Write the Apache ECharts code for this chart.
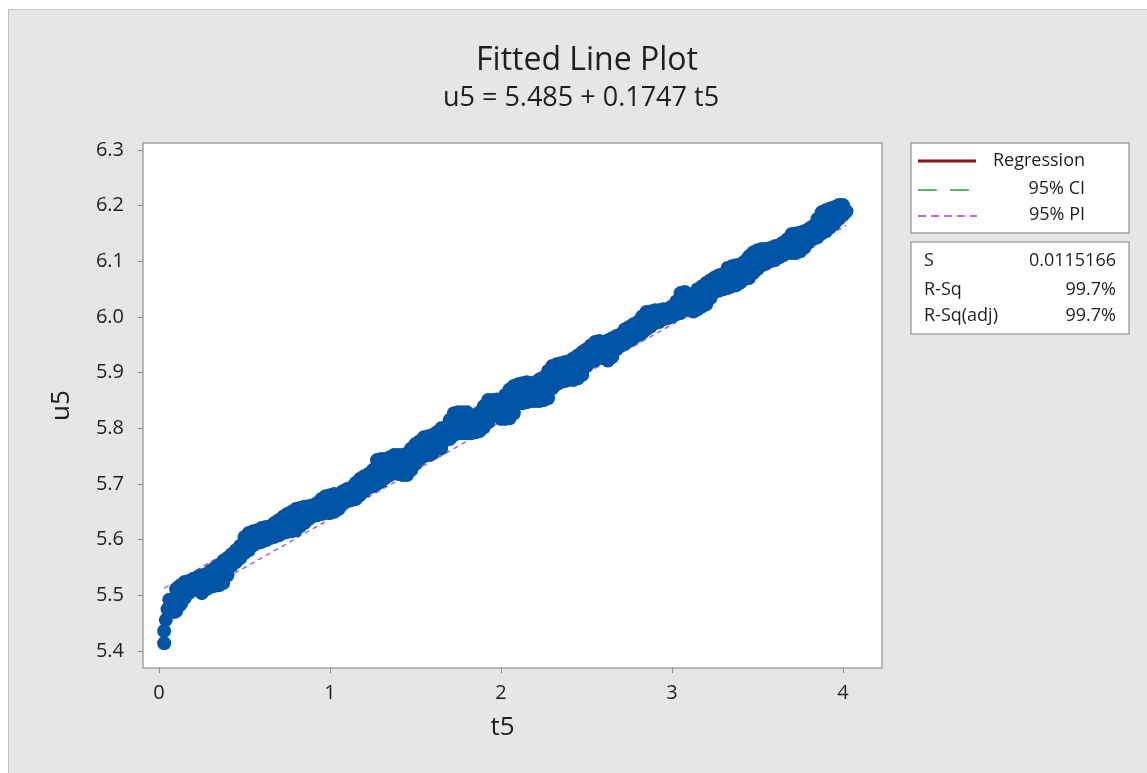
<!DOCTYPE html>
<html>
<head>
<meta charset="utf-8">
<script src="https://cdn.jsdelivr.net/npm/echarts@6/dist/echarts.min.js"></script>
<style>
  html, body { margin: 0; padding: 0; background: #ffffff; }
  #chart { width: 1147px; height: 773px; }
</style>
</head>
<body>
<div id="chart"></div>
<script>
// Fitted line: u5 = 5.485 + 0.1747 t5
const intercept = 5.485;
const slope = 0.1747;
const sValue = '0.0115166';
const rSq = '99.7%';
const rSqAdj = '99.7%';
const piHalfWidth = 0.0226;   // half-width of the 95% prediction band
const ciHalfWidth = 0.0012;   // half-width of the 95% confidence band at the ends

// Observations, grouped by t5 (top, middle and bottom of the cloud at each t5)
const t5 = [0.10,0.15,0.20,0.25,0.30,0.35,0.40,0.45,0.50,0.55,0.60,0.65,0.70,0.75,0.80,0.85,0.90,0.95,
  1.00,1.05,1.10,1.15,1.20,1.25,1.30,1.35,1.40,1.45,1.50,1.55,1.60,1.65,1.70,1.75,1.80,1.85,1.90,1.95,
  2.00,2.05,2.10,2.15,2.20,2.25,2.30,2.35,2.40,2.45,2.50,2.55,2.60,2.65,2.70,2.75,2.80,2.85,2.90,2.95,
  3.00,3.05,3.10,3.15,3.20,3.25,3.30,3.35,3.40,3.45,3.50,3.55,3.60,3.65,3.70,3.75,3.80,3.85,3.90,3.95,4.00];
const u5High = [5.511,5.524,5.529,5.536,5.544,5.554,5.567,5.581,5.605,5.615,5.621,5.624,5.635,5.646,5.655,5.659,5.662,5.673,
  5.680,5.680,5.691,5.702,5.714,5.725,5.745,5.748,5.752,5.755,5.772,5.784,5.788,5.800,5.815,5.829,5.829,5.820,5.840,5.851,
  5.851,5.870,5.879,5.883,5.883,5.892,5.912,5.917,5.921,5.931,5.942,5.955,5.955,5.962,5.969,5.982,5.991,6.009,6.012,6.014,
  6.019,6.043,6.041,6.050,6.061,6.071,6.077,6.091,6.095,6.109,6.120,6.122,6.127,6.134,6.149,6.152,6.158,6.176,6.192,6.197,6.201];
const u5Mid = [5.492,5.510,5.520,5.520,5.529,5.536,5.553,5.571,5.590,5.603,5.608,5.614,5.623,5.630,5.637,5.644,5.653,5.660,
  5.664,5.668,5.680,5.687,5.702,5.711,5.725,5.732,5.736,5.736,5.754,5.768,5.772,5.782,5.797,5.811,5.811,5.808,5.822,5.836,
  5.833,5.843,5.863,5.865,5.867,5.872,5.892,5.901,5.905,5.912,5.928,5.939,5.940,5.946,5.958,5.969,5.980,5.994,6.001,6.005,
  6.010,6.025,6.027,6.032,6.043,6.059,6.064,6.073,6.079,6.089,6.104,6.109,6.115,6.124,6.132,6.136,6.147,6.159,6.174,6.183,6.192];
const u5Low = [5.472,5.495,5.511,5.504,5.515,5.518,5.536,5.560,5.576,5.590,5.596,5.603,5.608,5.614,5.617,5.630,5.642,5.646,
  5.648,5.655,5.669,5.673,5.687,5.696,5.705,5.716,5.718,5.716,5.736,5.750,5.755,5.764,5.781,5.791,5.791,5.793,5.802,5.822,
  5.817,5.818,5.845,5.847,5.849,5.851,5.872,5.883,5.887,5.890,5.912,5.922,5.926,5.928,5.948,5.957,5.967,5.978,5.989,5.996,
  6.001,6.007,6.012,6.014,6.023,6.045,6.050,6.055,6.062,6.070,6.086,6.097,6.102,6.111,6.115,6.118,6.134,6.143,6.154,6.168,6.183];

// Readings taken between the columns above
const t5Half = [0.125,0.175,0.225,0.275,0.325,0.375,0.425,0.475,0.525,0.575,0.625,0.675,0.725,0.775,0.825,0.875,0.925,0.975,
  1.025,1.075,1.125,1.175,1.225,1.275,1.325,1.375,1.425,1.475,1.525,1.575,1.625,1.675,1.725,1.775,1.825,1.875,1.925,1.975,
  2.025,2.075,2.125,2.175,2.225,2.275,2.325,2.375,2.425,2.475,2.525,2.575,2.625,2.675,2.725,2.775,2.825,2.875,2.925,2.975,
  3.025,3.075,3.125,3.175,3.225,3.275,3.325,3.375,3.425,3.475,3.525,3.575,3.625,3.675,3.725,3.775,3.825,3.875,3.925,3.975];
const u5HalfHigh = [5.518,5.526,5.533,5.538,5.549,5.562,5.574,5.589,5.612,5.617,5.623,5.630,5.641,5.650,5.657,5.660,5.666,5.678,
  5.682,5.687,5.694,5.709,5.718,5.743,5.745,5.752,5.752,5.764,5.777,5.786,5.793,5.802,5.827,5.829,5.824,5.829,5.851,5.852,
  5.860,5.876,5.881,5.881,5.888,5.903,5.915,5.919,5.926,5.937,5.949,5.957,5.958,5.966,5.978,5.987,6.001,6.010,6.012,6.014,
  6.028,6.045,6.037,6.055,6.066,6.075,6.088,6.093,6.100,6.116,6.122,6.124,6.129,6.140,6.150,6.154,6.163,6.188,6.195,6.201];
const u5HalfMid = [5.501,5.515,5.521,5.525,5.533,5.542,5.563,5.578,5.597,5.606,5.611,5.617,5.626,5.633,5.641,5.649,5.655,5.663,
  5.666,5.676,5.683,5.694,5.705,5.721,5.729,5.736,5.734,5.745,5.761,5.770,5.779,5.790,5.808,5.811,5.808,5.813,5.831,5.839,
  5.838,5.852,5.863,5.865,5.869,5.879,5.897,5.903,5.906,5.917,5.935,5.942,5.940,5.954,5.966,5.974,5.987,5.997,6.001,6.006,
  6.017,6.030,6.025,6.037,6.050,6.062,6.070,6.075,6.084,6.098,6.107,6.112,6.118,6.127,6.132,6.140,6.151,6.170,6.179,6.188];
const u5HalfLow = [5.483,5.504,5.510,5.511,5.517,5.522,5.553,5.567,5.581,5.594,5.599,5.605,5.612,5.615,5.624,5.637,5.644,5.648,
  5.650,5.666,5.671,5.680,5.693,5.700,5.711,5.720,5.716,5.725,5.745,5.752,5.763,5.779,5.788,5.791,5.791,5.795,5.811,5.826,
  5.817,5.827,5.845,5.849,5.849,5.854,5.879,5.885,5.887,5.896,5.919,5.928,5.922,5.942,5.953,5.962,5.971,5.983,5.991,5.998,
  6.005,6.014,6.010,6.019,6.034,6.048,6.052,6.057,6.068,6.079,6.093,6.100,6.107,6.115,6.115,6.125,6.140,6.150,6.161,6.176];

// Early transient readings and the final reading
const t5Extra = [0.03,0.03,0.04,0.05,0.09,0.06,0.13,4.02];
const u5Extra = [5.414,5.436,5.456,5.475,5.470,5.492,5.486,6.190];

// Axis ticks
const xTicks = [0, 1, 2, 3, 4];
const yTicks = [5.4, 5.5, 5.6, 5.7, 5.8, 5.9, 6.0, 6.1, 6.2, 6.3];

const points = [];
t5.forEach((t, i) => points.push([t, u5High[i]], [t, u5Mid[i]], [t, u5Low[i]]));
t5Half.forEach((t, i) => points.push([t, u5HalfHigh[i]], [t, u5HalfMid[i]], [t, u5HalfLow[i]]));
t5Extra.forEach((t, i) => points.push([t, u5Extra[i]]));

const allT = t5.concat(t5Half, t5Extra);
const tMin = Math.min.apply(null, allT);
const tMax = Math.max.apply(null, allT);
const fitAt = t => intercept + slope * t;
const band = h => [[tMin, fitAt(tMin) + h], [tMax, fitAt(tMax) + h]];

const FONT = "'Open Sans', 'Noto Sans', sans-serif";
const TXT = '#1e1e1e';
const regColor = '#8c1515';
const ciColor = '#2e9a3c';
const piColor = '#b03ad6';
const legendFont = '18px ' + FONT;

const chart = echarts.init(document.getElementById('chart'), null, { renderer: 'canvas' });

chart.setOption({
  animation: false,
  backgroundColor: '#e6e6e6',
  textStyle: { fontFamily: FONT },
  title: [
    { text: 'Fitted Line Plot', left: 582, top: 40, textAlign: 'center',
      textStyle: { fontFamily: FONT, fontSize: 32, fontWeight: 'normal', color: TXT } },
    { text: 'u5 = 5.485 + 0.1747 t5', left: 576, top: 80, textAlign: 'center',
      textStyle: { fontFamily: FONT, fontSize: 27, fontWeight: 'normal', color: TXT } }
  ],
  grid: {
    left: 143, top: 143, width: 739, height: 525,
    show: true, backgroundColor: '#ffffff', borderColor: '#a3a3a3', borderWidth: 1.5,
    outerBoundsMode: 'none'
  },
  xAxis: {
    type: 'value', min: -0.0936, max: 4.228,
    name: 't5', nameLocation: 'middle', nameGap: 47,
    nameTextStyle: { fontFamily: FONT, fontSize: 26, color: TXT, padding: [0, 20, 0, 0] },
    axisLine: { show: false, onZero: false },
    axisTick: { show: true, length: 5, lineStyle: { color: '#8a8a8a' }, customValues: xTicks },
    axisLabel: { customValues: xTicks, margin: 15, fontFamily: FONT, fontSize: 20, color: TXT,
      formatter: v => String(Math.round(v)) },
    splitLine: { show: false }
  },
  yAxis: {
    type: 'value', min: 5.3695, max: 6.3126,
    name: 'u5', nameLocation: 'middle', nameGap: 68, nameRotate: 90,
    nameTextStyle: { fontFamily: FONT, fontSize: 26, color: TXT },
    axisLine: { show: false, onZero: false },
    axisTick: { show: true, length: 5, lineStyle: { color: '#8a8a8a' }, customValues: yTicks },
    axisLabel: { customValues: yTicks, margin: 19, fontFamily: FONT, fontSize: 20, color: TXT,
      formatter: v => v.toFixed(1) },
    splitLine: { show: false }
  },
  series: [
    { name: '95% PI', type: 'line', data: band(piHalfWidth), symbol: 'none', z: 1,
      lineStyle: { color: piColor, width: 1.2, type: [5, 4] } },
    { name: '95% PI', type: 'line', data: band(-piHalfWidth), symbol: 'none', z: 1,
      lineStyle: { color: piColor, width: 1.2, type: [5, 4] } },
    { name: '95% CI', type: 'line', data: band(ciHalfWidth), symbol: 'none', z: 1,
      lineStyle: { color: ciColor, width: 1.5, type: [10, 6] } },
    { name: '95% CI', type: 'line', data: band(-ciHalfWidth), symbol: 'none', z: 1,
      lineStyle: { color: ciColor, width: 1.5, type: [10, 6] } },
    { name: 'Regression', type: 'line', data: band(0), symbol: 'none', z: 1,
      lineStyle: { color: regColor, width: 2.5 } },
    { name: 'u5', type: 'scatter', data: points, symbol: 'circle', symbolSize: 14, z: 3,
      itemStyle: { color: '#0054a6', opacity: 1 } }
  ],
  graphic: [
    // page margin and panel edge
    { type: 'rect', shape: { x: 0, y: 0, width: 1147, height: 9 }, style: { fill: '#ffffff' }, silent: true },
    { type: 'rect', shape: { x: 0, y: 0, width: 8, height: 773 }, style: { fill: '#ffffff' }, silent: true },
    { type: 'polyline', shape: { points: [[8.5, 773], [8.5, 9.5], [1147, 9.5]] },
      style: { stroke: '#c4c4c4', fill: null, lineWidth: 1 }, silent: true },

    // legend box
    { type: 'rect', shape: { x: 911, y: 143, width: 218, height: 90 },
      style: { fill: '#ffffff', stroke: '#a3a3a3', lineWidth: 1.5 } },
    { type: 'line', shape: { x1: 918, y1: 161, x2: 976, y2: 161 },
      style: { stroke: regColor, lineWidth: 3 } },
    { type: 'line', shape: { x1: 918, y1: 190, x2: 970, y2: 190 },
      style: { stroke: ciColor, lineWidth: 1.5, lineDash: [19, 13] } },
    { type: 'line', shape: { x1: 918, y1: 216, x2: 977, y2: 216 },
      style: { stroke: piColor, lineWidth: 1.5, lineDash: [8, 5] } },
    { type: 'text', style: { text: 'Regression', x: 1085, y: 161, textAlign: 'right', textVerticalAlign: 'middle',
      font: legendFont, fill: TXT } },
    { type: 'text', style: { text: '95% CI', x: 1085, y: 189, textAlign: 'right', textVerticalAlign: 'middle',
      font: legendFont, fill: TXT } },
    { type: 'text', style: { text: '95% PI', x: 1085, y: 215, textAlign: 'right', textVerticalAlign: 'middle',
      font: legendFont, fill: TXT } },

    // summary box
    { type: 'rect', shape: { x: 911, y: 242, width: 218, height: 92 },
      style: { fill: '#ffffff', stroke: '#a3a3a3', lineWidth: 1.5 } },
    { type: 'text', style: { text: 'S', x: 924, y: 261, textVerticalAlign: 'middle', font: legendFont, fill: TXT } },
    { type: 'text', style: { text: 'R-Sq', x: 924, y: 290, textVerticalAlign: 'middle', font: legendFont, fill: TXT } },
    { type: 'text', style: { text: 'R-Sq(adj)', x: 924, y: 316, textVerticalAlign: 'middle', font: legendFont, fill: TXT } },
    { type: 'text', style: { text: sValue, x: 1116, y: 261, textAlign: 'right', textVerticalAlign: 'middle', font: legendFont, fill: TXT } },
    { type: 'text', style: { text: rSq, x: 1116, y: 290, textAlign: 'right', textVerticalAlign: 'middle', font: legendFont, fill: TXT } },
    { type: 'text', style: { text: rSqAdj, x: 1116, y: 316, textAlign: 'right', textVerticalAlign: 'middle', font: legendFont, fill: TXT } }
  ]
});
</script>
</body>
</html>
